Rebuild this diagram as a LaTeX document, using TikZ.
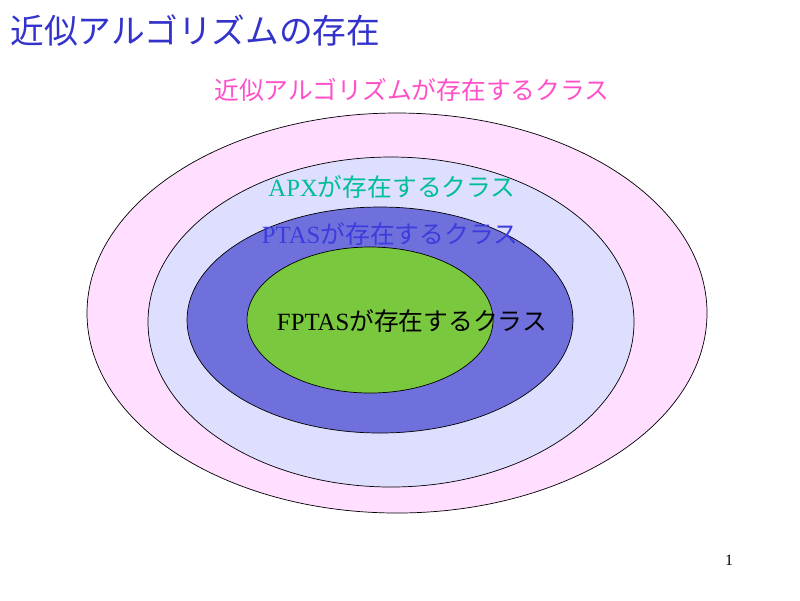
\documentclass[tikz,border=0pt]{standalone}
\usepackage{fontspec}
\setmainfont{Liberation Serif}
\newfontfamily\cjk{Noto Sans CJK JP}
\usepackage{xcolor}
\definecolor{titleblue}{RGB}{51,51,204}
\definecolor{outerpink}{RGB}{255,222,255}
\definecolor{lavender}{RGB}{222,222,255}
\definecolor{ptasblue}{RGB}{112,112,220}
\definecolor{fptasgreen}{RGB}{122,200,62}
\definecolor{labelpink}{RGB}{255,80,200}
\definecolor{apxteal}{RGB}{0,190,150}
\definecolor{ptastext}{RGB}{60,60,220}

\begin{document}
\begin{tikzpicture}[x=0.02cm,y=-0.02cm]
                \useasboundingbox (0,0) rectangle (800,600);
                \tikzset{label/.style={font=\fontsize{14.1}{16}\selectfont,inner sep=0pt}}

                \filldraw[fill=outerpink,line width=0.4pt] (397,313) ellipse (310 and 200);
                \filldraw[fill=lavender,line width=0.4pt] (391,322) ellipse (243 and 165);
                \filldraw[fill=ptasblue,line width=0.4pt] (380,320) ellipse (193 and 113);
                \filldraw[fill=fptasgreen,line width=0.4pt] (370,320) ellipse (123 and 73);

                \node[anchor=west,inner sep=0pt,text=titleblue,font=\fontsize{19.2}{22}\cjk] (title) at (10,31) {近似アルゴリズムの存在};
                \node[label,text=labelpink] (approx) at (412,90) {\cjk 近似アルゴリズムが存在するクラス};
                \node[label,text=apxteal] (apx) at (392,187) {APX\cjk が存在するクラス};
                \node[label,text=ptastext] (ptas) at (390,234) {PTAS\cjk が存在するクラス};
                \node[label] (fptas) at (412,321) {FPTAS\cjk が存在するクラス};
                \node[font=\fontsize{9}{10}\selectfont,inner sep=0pt] (page) at (729,560) {1};
            \end{tikzpicture}
\end{document}
